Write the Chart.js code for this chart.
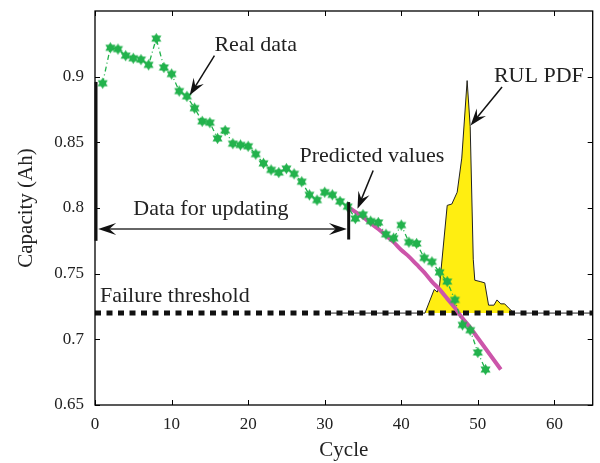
<!DOCTYPE html>
<html><head><meta charset="utf-8">
<script src="https://cdn.jsdelivr.net/npm/chart.js@4/dist/chart.umd.min.js"></script>
<style>html,body{margin:0;padding:0;background:#fff}#wrap{width:600px;height:463px;position:relative}</style>
</head><body><div id="wrap"><canvas id="c"></canvas></div>
<script>
// ---- data ----
const cycles = [1,2,3,4,5,6,7,8,9,10,11,12,13,14,15,16,17,18,19,20,21,22,23,24,25,26,27,28,29,30,31,32,33,34,35,36,37,38,39,40,41,42,43,44,45,46,47,48,49,50,51];
const capacity = [0.895,0.922,0.921,0.916,0.914,0.913,0.909,0.929,0.907,0.902,0.889,0.885,0.876,0.866,0.865,0.853,0.859,0.849,0.848,0.847,0.841,0.834,0.829,0.827,0.830,0.826,0.820,0.810,0.806,0.812,0.810,0.805,0.801,0.792,0.795,0.790,0.789,0.780,0.777,0.787,0.774,0.773,0.762,0.759,0.751,0.744,0.730,0.711,0.707,0.690,0.677];
const predCycles = [33,34,35,36,37,38,39,40,41,42,43,44,45,46,47,48,49,50,51,52,53];
const predValues = [0.801,0.797,0.793,0.7885,0.784,0.779,0.774,0.768,0.763,0.757,0.751,0.744,0.738,0.731,0.724,0.716,0.709,0.701,0.693,0.685,0.677];
const pdfCycles = [30,43.1,44.3,44.7,45.0,46.0,46.6,47.3,47.9,48.6,49.0,49.4,49.6,50.3,50.9,51.4,52.1,52.5,53.0,53.5,54.0,54.7,65];
const pdfValues = [0.72,0.72,0.738,0.736,0.741,0.802,0.803,0.812,0.838,0.897,0.862,0.761,0.745,0.744,0.743,0.726,0.726,0.730,0.727,0.727,0.724,0.72,0.72];
const thresholdValue = 0.72;
const xTicks = [0,10,20,30,40,50,60];
const yTicks = [0.65,0.7,0.75,0.8,0.85,0.9];
const xLabel = 'Cycle';
const yLabel = 'Capacity (Ah)';

// ---- annotation layout (data coordinates) ----
const notes = [
  {text:'Real data', x:15.6, y:0.9195},
  {text:'RUL PDF', x:52.1, y:0.896},
  {text:'Predicted values', x:26.7, y:0.835},
  {text:'Data for updating', x:5.0, y:0.7943},
  {text:'Failure threshold', x:0.65, y:0.7283}
];
const arrows = [
  {x1:15.6, y1:0.916, x2:12.37, y2:0.8858},
  {x1:36.33, y1:0.8286, x2:34.28, y2:0.7994},
  {x1:53.16, y1:0.8922, x2:49.05, y2:0.8629}
];
const span = {x1:0.15, x2:32.9, y:0.784};
const bars = [{x:0, y1:0.775, y2:0.896}, {x:33, y1:0.776, y2:0.8045}];

const SERIF = '"Liberation Serif", "Times New Roman", serif';
const GREEN = '#22B24C';
const MAGENTA = '#CC55AA';
const YELLOW = '#FFEE11';

function makeStar(){
  const c = document.createElement('canvas');
  c.width = 13; c.height = 13;
  const g = c.getContext('2d');
  g.fillStyle = GREEN;
  const cx = 6.5, cy = 6.5, r = 5.8;
  for (let t = 0; t < 2; t++) {
    g.beginPath();
    for (let k = 0; k < 3; k++) {
      const a = -Math.PI/2 + t*Math.PI + k*2*Math.PI/3;
      const px = cx + r*Math.cos(a), py = cy + r*Math.sin(a);
      if (k === 0) g.moveTo(px, py); else g.lineTo(px, py);
    }
    g.closePath(); g.fill();
  }
  return c;
}
const star = makeStar();

const zip = (xs, ys) => xs.map((x, i) => ({x, y: ys[i]}));

function arrowHead(ctx, x1, y1, x2, y2, L, W){
  const dx = x2-x1, dy = y2-y1, len = Math.hypot(dx, dy);
  const ux = dx/len, uy = dy/len, nx = -uy, ny = ux;
  ctx.beginPath();
  ctx.moveTo(x2, y2);
  ctx.lineTo(x2 - L*ux + W*nx, y2 - L*uy + W*ny);
  ctx.lineTo(x2 - (L*0.62)*ux, y2 - (L*0.62)*uy);
  ctx.lineTo(x2 - L*ux - W*nx, y2 - L*uy - W*ny);
  ctx.closePath();
  ctx.fill();
}

const decor = {
  id: 'decor',
  afterDatasetsDraw(chart){
    const {ctx, chartArea: a, scales: {x, y}} = chart;
    ctx.save();
    ctx.strokeStyle = '#000'; ctx.lineWidth = 1.3;
    ctx.strokeRect(a.left, a.top, a.right - a.left, a.bottom - a.top);
    ctx.lineWidth = 1;
    ctx.beginPath();
    xTicks.forEach(v => { const px = Math.round(x.getPixelForValue(v)) + 0.5;
      ctx.moveTo(px, a.bottom); ctx.lineTo(px, a.bottom - 5);
      ctx.moveTo(px, a.top); ctx.lineTo(px, a.top + 5); });
    yTicks.forEach(v => { const py = Math.round(y.getPixelForValue(v)) + 0.5;
      ctx.moveTo(a.left, py); ctx.lineTo(a.left + 5, py);
      ctx.moveTo(a.right, py); ctx.lineTo(a.right - 5, py); });
    ctx.stroke();
    ctx.fillStyle = '#111';
    bars.forEach(b => {
      const px = x.getPixelForValue(b.x);
      const pt = y.getPixelForValue(b.y2), pb = y.getPixelForValue(b.y1);
      ctx.fillRect(px - 0.5, pt, 3, pb - pt);
    });
    const sx1 = x.getPixelForValue(span.x1) + 2, sx2 = x.getPixelForValue(span.x2), sy = y.getPixelForValue(span.y);
    ctx.strokeStyle = '#333'; ctx.lineWidth = 1.6;
    ctx.beginPath(); ctx.moveTo(sx1 + 8, sy); ctx.lineTo(sx2 - 8, sy); ctx.stroke();
    ctx.fillStyle = '#111';
    arrowHead(ctx, sx2, sy, sx1, sy, 18, 6);
    arrowHead(ctx, sx1, sy, sx2, sy, 18, 6);
    arrows.forEach(ar => {
      const x1 = x.getPixelForValue(ar.x1), y1 = y.getPixelForValue(ar.y1);
      const x2 = x.getPixelForValue(ar.x2), y2 = y.getPixelForValue(ar.y2);
      ctx.strokeStyle = '#111'; ctx.lineWidth = 1.5;
      const len = Math.hypot(x2-x1, y2-y1);
      const ex = x2 - (x2-x1)/len*8, ey = y2 - (y2-y1)/len*8;
      ctx.beginPath(); ctx.moveTo(x1, y1); ctx.lineTo(ex, ey); ctx.stroke();
      arrowHead(ctx, x1, y1, x2, y2, 17, 6);
    });
    ctx.fillStyle = '#222';
    ctx.font = '22px ' + SERIF;
    ctx.textAlign = 'left'; ctx.textBaseline = 'alphabetic';
    notes.forEach(n => ctx.fillText(n.text, x.getPixelForValue(n.x), y.getPixelForValue(n.y)));
    ctx.restore();
  }
};

new Chart(document.getElementById('c'), {
  type: 'scatter',
  data: {
    datasets: [
      { label: 'Real data', data: zip(cycles, capacity), showLine: true, order: 0,
        borderColor: GREEN, borderWidth: 1.3, borderDash: [5,3,1,3],
        pointStyle: star, pointRadius: 6, pointHoverRadius: 6, backgroundColor: GREEN },
      { label: 'Predicted values', data: zip(predCycles, predValues), showLine: true, order: 1,
        borderColor: MAGENTA, borderWidth: 4, pointRadius: 0, tension: 0.4, cubicInterpolationMode: 'monotone' },
      { label: 'Failure threshold', data: [{x: 0, y: thresholdValue}, {x: 65, y: thresholdValue}], showLine: true, order: 2,
        borderColor: '#111', borderWidth: 5, borderDash: [6,5.5], pointRadius: 0 },
      { label: 'RUL PDF', data: zip(pdfCycles, pdfValues), showLine: true, order: 3,
        borderColor: '#222', borderWidth: 1, pointRadius: 0,
        backgroundColor: YELLOW, fill: {value: thresholdValue} }
    ]
  },
  options: {
    responsive: true, maintainAspectRatio: false, animation: false,
    layout: {padding: {left: 0, top: 11, right: 6, bottom: 0}},
    plugins: {legend: {display: false}, tooltip: {enabled: false}},
    scales: {
      x: { type: 'linear', min: 0, max: 65,
        afterBuildTicks: s => { s.ticks = xTicks.map(v => ({value: v})); },
        afterFit: s => { s.height = 58; },
        grid: {display: false, drawTicks: false}, border: {display: false},
        ticks: {color: '#222', font: {family: SERIF, size: 17}, padding: 9, maxRotation: 0},
        title: {display: true, text: xLabel, color: '#222', font: {family: SERIF, size: 21}, padding: {top: 0, bottom: 0}}
      },
      y: { type: 'linear', min: 0.65, max: 0.95,
        afterBuildTicks: s => { s.ticks = yTicks.map(v => ({value: v})); },
        afterFit: s => { s.width = 95; s.paddingTop = 0; },
        grid: {display: false, drawTicks: false}, border: {display: false},
        ticks: {color: '#222', font: {family: SERIF, size: 17}, padding: 11, callback: v => String(Math.round(v*100)/100)},
        title: {display: true, text: yLabel, color: '#222', font: {family: SERIF, size: 21}, padding: {top: 14, bottom: 0}}
      }
    }
  },
  plugins: [decor]
});
</script>
</body></html>
